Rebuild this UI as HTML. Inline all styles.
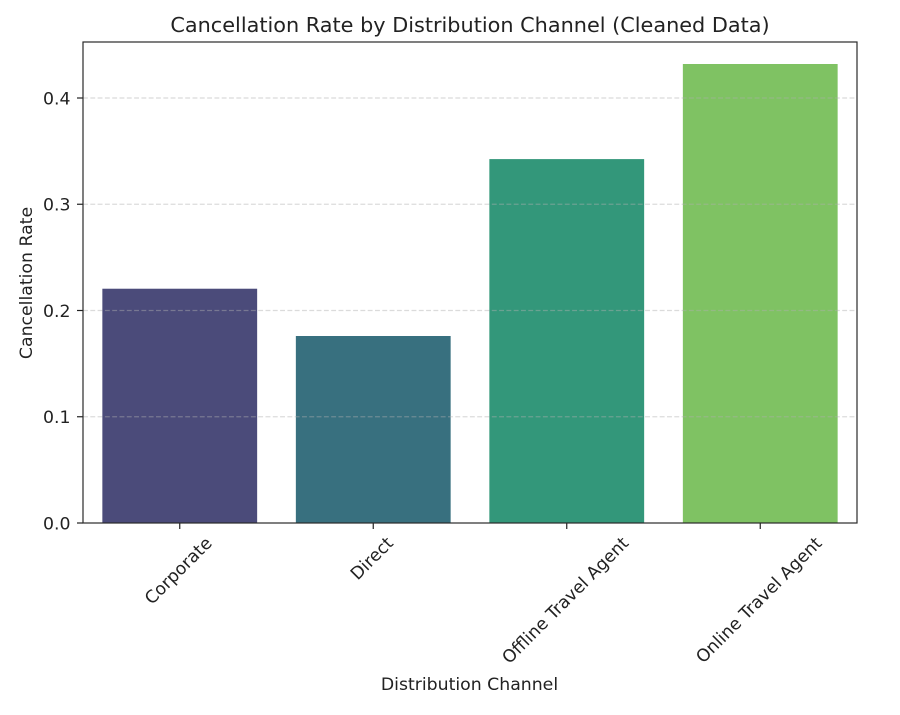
<!DOCTYPE html>
<html>
<head>
<meta charset="utf-8">
<style>
html,body{margin:0;padding:0;background:#fff;width:900px;height:715px;overflow:hidden}
svg{display:block}
text{font-family:"DejaVu Sans","Liberation Sans",sans-serif;fill:#222}
</style>
</head>
<body>
<svg id="chart" xmlns="http://www.w3.org/2000/svg" width="900" height="715" viewBox="0 0 900 715"></svg>
<script>
const categories = ["Corporate", "Direct", "Offline Travel Agent", "Online Travel Agent"];
const rates = [0.2205, 0.176, 0.3425, 0.432];
const barColors = ["#4b4b7a", "#38707f", "#33977a", "#7fc263"];
const yTicks = [0, 0.1, 0.2, 0.3, 0.4];
const yTickLabels = ["0.0", "0.1", "0.2", "0.3", "0.4"];

const NS = "http://www.w3.org/2000/svg";
const svg = document.getElementById("chart");
const plot = {left: 83, right: 857, top: 42, bottom: 523};
const yUnit = 1062.5;
const slot = (plot.right - plot.left) / 4.0;
const labelSize = 17.3;
function xCenter(i){ return plot.left + slot * (i + 0.5); }
function yPos(v){ return plot.bottom - v * yUnit; }
function make(tag, attrs, text){
  const el = document.createElementNS(NS, tag);
  for (const k in attrs) el.setAttribute(k, attrs[k]);
  if (text !== undefined) el.textContent = text;
  svg.appendChild(el);
  return el;
}

categories.forEach((c, i) => {
  const w = slot * 0.8;
  const bar = make("rect", {x: xCenter(i) - w / 2, y: yPos(rates[i]), width: w, height: plot.bottom - yPos(rates[i]), fill: barColors[i]});
  
  
});

yTicks.forEach((t, i) => {
  const y = yPos(t);
  if (t > 0) {
    const grid = make("line", {x1: plot.left, x2: plot.right, y1: y, y2: y, stroke: "#b0b0b0", "stroke-opacity": 0.45, "stroke-width": 1.2, "stroke-dasharray": "4.9 2.4"});
    
    
  }
  const tick = make("line", {x1: plot.left - 6, x2: plot.left, y1: y, y2: y, stroke: "#222", "stroke-width": 1.2});
  
  
  const label = make("text", {x: plot.left - 12.5, y: y + 6.3, "text-anchor": "end", "font-size": labelSize}, yTickLabels[i]);
  
  
});

categories.forEach((c, i) => {
  const x = xCenter(i);
  const tick = make("line", {x1: x, x2: x, y1: plot.bottom, y2: plot.bottom + 6, stroke: "#222", "stroke-width": 1.2});
  
  
  const label = make("text", {x: x - 1, y: 0, "text-anchor": "middle", "font-size": labelSize}, c);
  
  
  const len = label.getComputedTextLength();
  const cy = plot.bottom + 10.5 + (len + labelSize * 1.16) * Math.SQRT1_2 / 2;
  label.setAttribute('y', cy + labelSize * 0.3);
  label.setAttribute('transform', 'rotate(-45 ' + (x - 1) + ' ' + cy + ')');
});

const frame = make("rect", {x: plot.left, y: plot.top, width: plot.right - plot.left, height: plot.bottom - plot.top, fill: "none", stroke: "#2a2a2a", "stroke-width": 1.2});



const title = make("text", {x: 470, y: 32, "text-anchor": "middle", "font-size": 20.8}, "Cancellation Rate by Distribution Channel (Cleaned Data)");



const xTitle = make("text", {x: 469.5, y: 690, "text-anchor": "middle", "font-size": labelSize}, "Distribution Channel");



const yTitle = make("text", {x: 32, y: 283, "text-anchor": "middle", "font-size": labelSize, transform: "rotate(-90 32 283)"}, "Cancellation Rate");


</script>
</body>
</html>
